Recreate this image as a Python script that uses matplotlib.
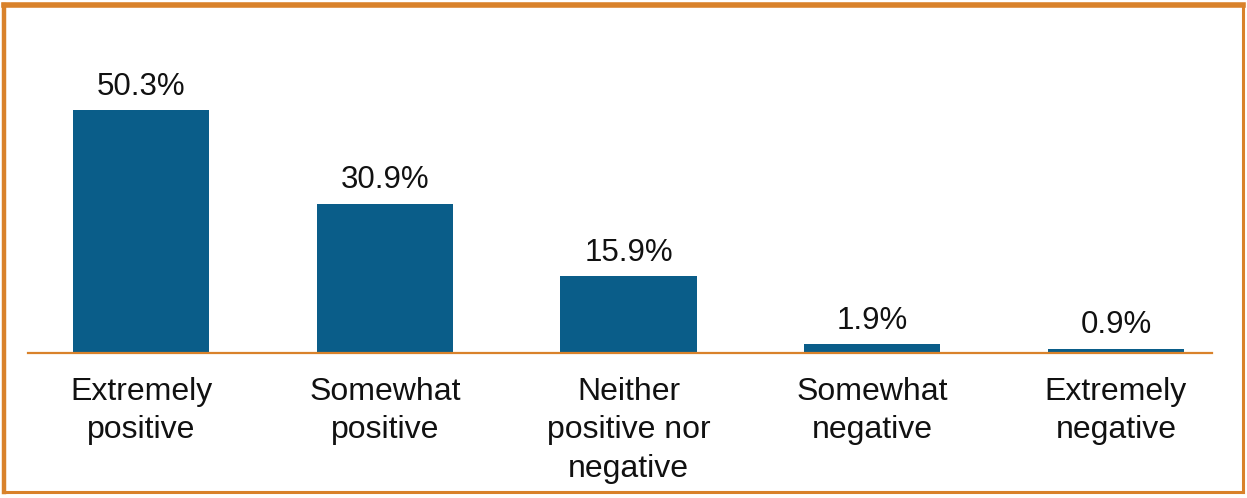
import matplotlib.pyplot as plt
from matplotlib.lines import Line2D

plt.rcParams['font.family'] = ['Liberation Sans', 'DejaVu Sans']

categories = ['Extremely\npositive', 'Somewhat\npositive', 'Neither\npositive nor\nnegative',
              'Somewhat\nnegative', 'Extremely\nnegative']
values = [50.3, 30.9, 15.9, 1.9, 0.9]
labels = ['50.3%', '30.9%', '15.9%', '1.9%', '0.9%']

bar_color = '#0A5D89'
orange = '#D9822B'

fig = plt.figure(figsize=(12.47, 4.98), dpi=100)
ax = fig.add_axes([28 / 1247, (498 - 353) / 498, (1212 - 28) / 1247, (353 - 20) / 498])

x = list(range(len(values)))
ax.bar(x, values, width=0.56, color=bar_color, zorder=2)

for xi, v, lab in zip(x, values, labels):
    ax.annotate(lab, (xi, v), xytext=(0, 11), textcoords='offset points',
                ha='center', va='baseline', fontsize=22.5, color='#111111')

ax.set_xlim(-0.464, 4.394)
ax.set_ylim(0, 68.9)
ax.set_xticks(x)
ax.set_xticklabels(categories, fontsize=23, color='#111111', linespacing=1.38)
ax.tick_params(axis='x', length=0, pad=17)
ax.set_yticks([])

for s in ['top', 'right', 'left']:
    ax.spines[s].set_visible(False)
ax.spines['bottom'].set_color(orange)
ax.spines['bottom'].set_linewidth(1.6)
ax.spines['bottom'].set_zorder(3)

# frame around the whole picture
W, H = 1247, 498
def fl(x0, y0, x1, y1, lw):
    fig.add_artist(Line2D([x0 / W, x1 / W], [1 - y0 / H, 1 - y1 / H],
                          color=orange, linewidth=lw, solid_capstyle='projecting'))
fl(4, 5.5, 1242.5, 5.5, 4)
fl(4, 5.5, 4, 492, 3.2)
fl(1242.5, 5.5, 1242.5, 492, 2.2)
fl(4, 492, 1242.5, 492, 2.2)

fig.savefig('out.png', dpi=100)
